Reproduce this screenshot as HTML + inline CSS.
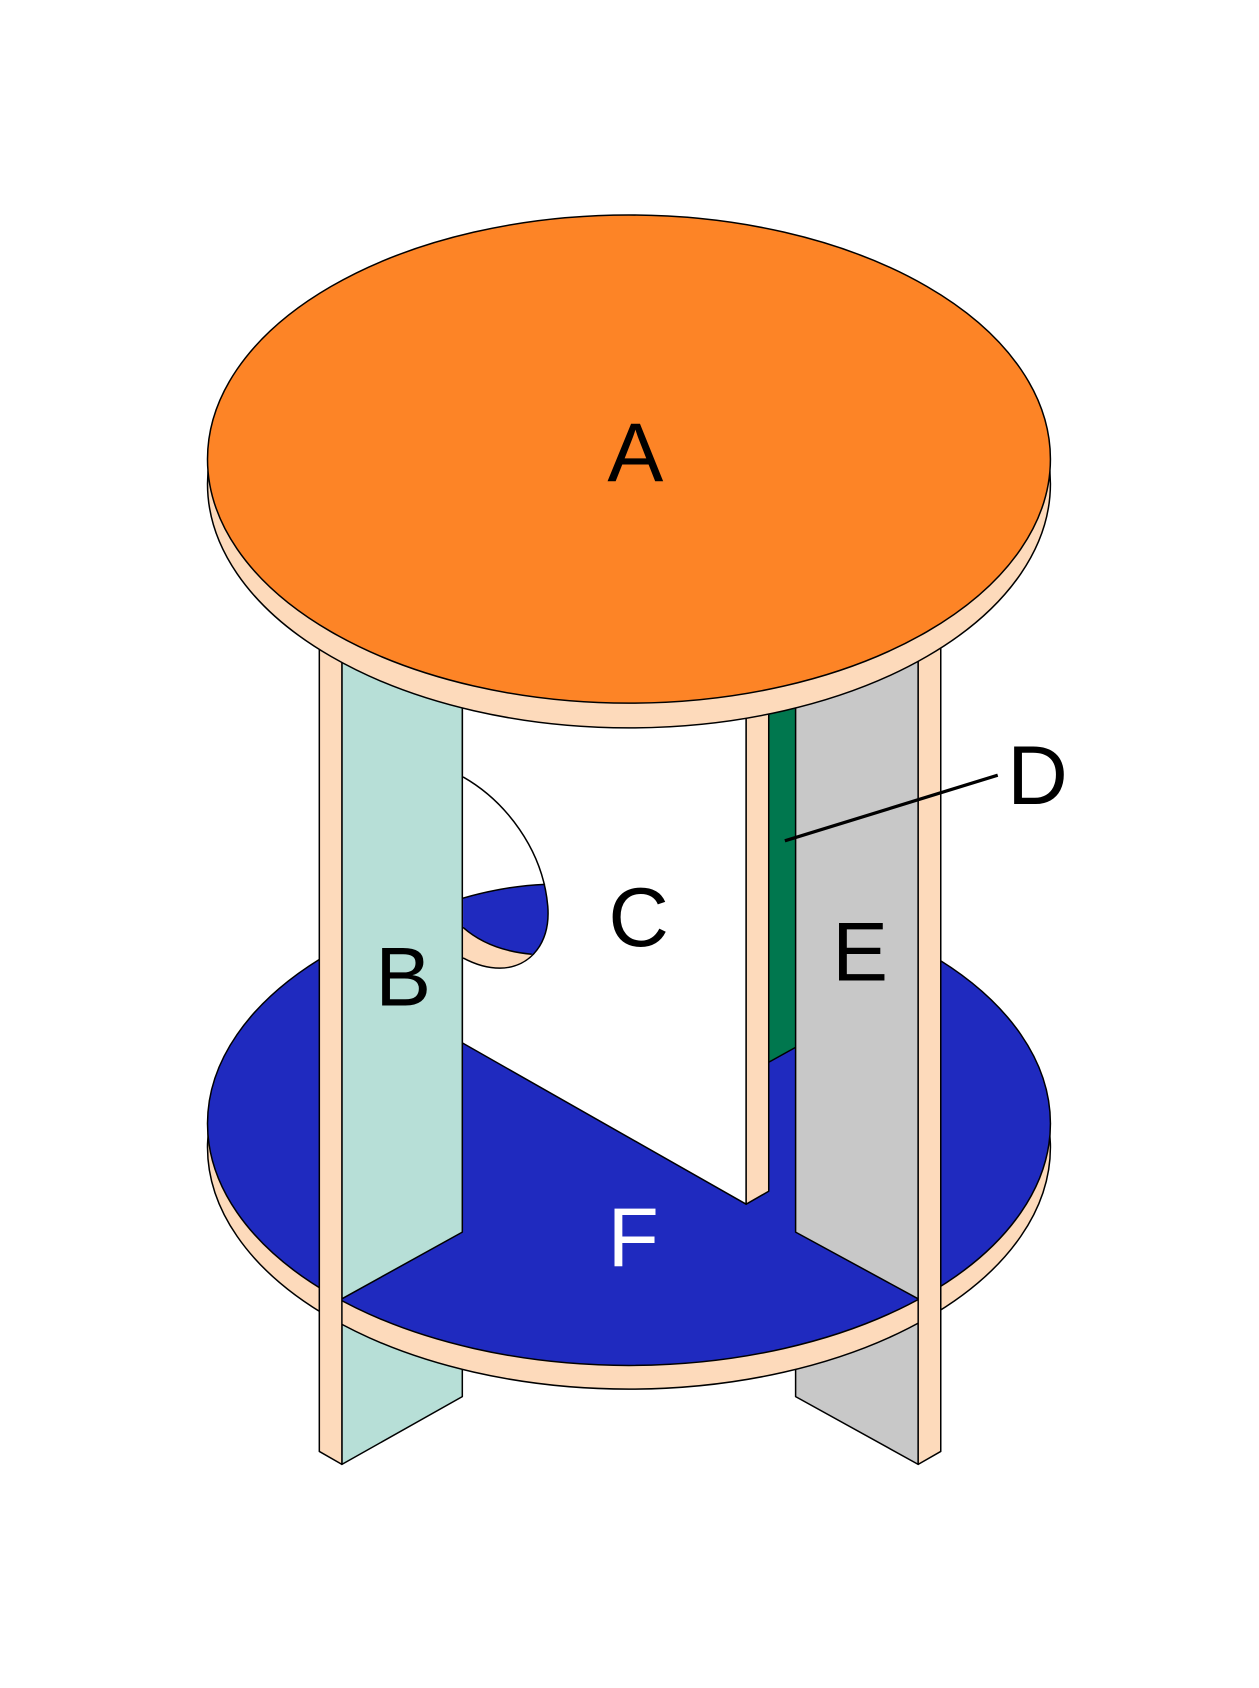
<!DOCTYPE html>
<html><head><style>html,body{margin:0;padding:0;background:#fff}svg{display:block}</style></head>
<body>
<svg width="1259" height="1688" viewBox="0 0 1171 1570" preserveAspectRatio="none" xmlns="http://www.w3.org/2000/svg">
<defs>
<clipPath id="hole"><path d="M430.7,722.6 C470,745 505,790 509.5,843 C512,875 495,900 465,900.5 C452,900.5 440,896 430.7,891 Z"/></clipPath>
</defs>
<g stroke="#000" stroke-width="1.4" stroke-linejoin="round">
<!-- full lower panels -->
<polygon points="318,560 430,560 430,1299 318,1362" fill="#b7dfd7"/>
<polygon points="740,560 854,560 854,1362 740,1299" fill="#c8c8c8"/>
<!-- bottom disc -->
<ellipse cx="585" cy="1067" rx="392" ry="225" fill="#fddabb"/>
<ellipse cx="585" cy="1045" rx="392" ry="225" fill="#1f2abf"/>
<!-- D green -->
<polygon points="715,560 742,560 742,973 715,988" fill="#00774e"/>
<!-- C white -->
<polygon points="430,560 694,560 694,1120 430,970" fill="#fff"/>
<polygon points="694,560 715,560 715,1108 694,1120" fill="#fddabb"/>
<!-- hole -->
<g clip-path="url(#hole)" stroke="none">
<rect x="425" y="715" width="100" height="200" fill="#fff"/>
<path d="M430,835.5 Q470,824 507,822.5 L520,822.5 L520,900 L494.6,887.5 Q455,884 430.7,862.6 Z" fill="#1f2abf"/>
<path d="M430.7,862.6 Q455,884 494.6,887.5 L520,900 L520,915 L425,915 Z" fill="#fddabb"/>
</g>
<path d="M430,835.5 Q470,824 507,822.5" fill="none"/>
<path d="M430.7,862.6 Q455,884 494.6,887.5" fill="none"/>
<path d="M430.7,722.6 C470,745 505,790 509.5,843 C512,875 495,900 465,900.5 C452,900.5 440,896 430.7,891" fill="none"/>
<!-- upper panels -->
<polygon points="318,560 430,560 430,1146 318,1208" fill="#b7dfd7"/>
<polygon points="740,560 854,560 854,1208 740,1146" fill="#c8c8c8"/>
<!-- posts -->
<polygon points="297,580 318,580 318,1362 297,1350" fill="#fddabb"/>
<polygon points="854,580 875,580 875,1350 854,1362" fill="#fddabb"/>
<!-- top disc -->
<ellipse cx="585" cy="450" rx="392" ry="227" fill="#fddabb"/>
<ellipse cx="585" cy="427" rx="392" ry="227" fill="#fd8426"/>
</g>
<line x1="730" y1="782" x2="928" y2="721" stroke="#000" stroke-width="3"/>
<g font-family="Liberation Sans, sans-serif" font-size="78" text-anchor="middle">
<text x="591" y="448">A</text>
<text x="375" y="935">B</text>
<text x="594" y="880">C</text>
<text x="965" y="748">D</text>
<text x="800" y="912">E</text>
<text x="589" y="1178" fill="#fff">F</text>
</g>
</svg>
</body></html>
